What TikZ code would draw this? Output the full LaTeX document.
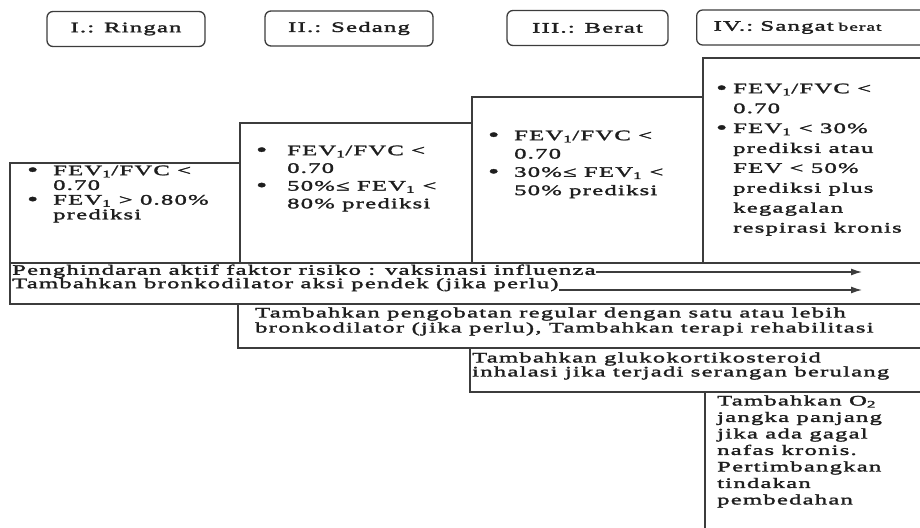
\documentclass[tikz,border=0pt]{standalone}
\usepackage{fontspec}
\setmainfont{Liberation Serif}[FakeStretch=1.7,LetterSpace=8.5,FakeBold=2]
\usetikzlibrary{arrows.meta}
\definecolor{garis}{RGB}{60,60,60}
\definecolor{tinta}{RGB}{30,30,30}
\newcommand{\fev}{FEV\textsubscript{1}}
\newcommand{\butir}{\raisebox{-0.6pt}{\fontsize{18.5}{18}\selectfont\textbullet}}

\begin{document}
\begin{tikzpicture}[x=1pt,y=-1pt,
  kotak/.style={draw=garis,line width=1.6pt},
  judul/.style={draw=garis,line width=1.3pt,rounded corners=6pt,minimum height=35pt,inner sep=0pt,text=tinta},
  isi/.style={anchor=north west,inner sep=0pt,text=tinta,align=left},
  panah/.style={-{Latex[length=11pt,width=7pt]},draw=garis,line width=1.3pt},
  font=\fontsize{14.5}{17}\selectfont]
  \useasboundingbox (0,0) rectangle (920,527);
  \clip (0,0) rectangle (920,527);

  % judul derajat
  \node[judul,minimum width=158pt] (jI) at (126,29) {I.: Ringan};
  \node[judul,minimum width=168pt] (jII) at (349,28.5) {II.: Sedang};
  \node[judul,minimum width=161pt] (jIII) at (587.5,28) {III.: Berat};
  \node[judul,anchor=west,text width=205pt,inner xsep=17pt,align=left] (jIV) at (696,27.5)
    {IV.: Sangat {\fontsize{11.5}{13}\selectfont berat}};

  % kotak bertingkat
  \draw[kotak] (10,163) rectangle (240,263);
  \draw[kotak] (240,123) rectangle (472,263);
  \draw[kotak] (472,97) rectangle (703,263);
  \draw[kotak] (703,58) rectangle (935,263);
  \draw[kotak] (10,263) rectangle (935,304);
  \draw[kotak] (238,304) rectangle (935,348);
  \draw[kotak] (470,348) rectangle (935,392);
  \draw[kotak] (705,392) rectangle (935,540);

  % kriteria spirometri
  \node[isi,font=\fontsize{14.5}{14.7}\selectfont] (kI) at (27,164.7)
    {\begin{tabular}{@{}p{26pt}@{}l@{}}
     \butir & \fev/FVC <\\ & 0.70\\ \butir & \fev{} > 0.80\%\\ & prediksi
     \end{tabular}};
  \node[isi,font=\fontsize{14.5}{17.7}\selectfont] (kII) at (256,142.6)
    {\begin{tabular}{@{}p{31pt}@{}l@{}}
     \butir & \fev/FVC <\\ & 0.70\\ \butir & 50\%≤ \fev{} <\\ & 80\% prediksi
     \end{tabular}};
  \node[isi,font=\fontsize{14.5}{18.3}\selectfont] (kIII) at (488,127.2)
    {\begin{tabular}{@{}p{26pt}@{}l@{}}
     \butir & \fev/FVC <\\ & 0.70\\ \butir & 30\%≤ \fev{} <\\ & 50\% prediksi
     \end{tabular}};
  \node[isi,font=\fontsize{14.5}{19.9}\selectfont] (kIV) at (716,79.1)
    {\begin{tabular}{@{}p{17pt}@{}l@{}}
     \butir & \fev/FVC <\\ & 0.70\\ \butir & \fev{} < 30\%\\ & prediksi atau\\
     & FEV < 50\%\\ & prediksi plus\\ & kegagalan\\ & respirasi kronis
     \end{tabular}};

  % penanganan
  \node[isi] (t1) at (12,264.4) {Penghindaran aktif faktor risiko : vaksinasi influenza};
  \node[isi] (t2) at (12,277.9) {Tambahkan bronkodilator aksi pendek (jika perlu)};
  \coordinate (u1) at (862,272);
  \coordinate (u2) at (862,290);
  \draw[panah] (t1.east |- u1) -- (u1);
  \draw[panah] (t2.east |- u2) -- (u2);

  \node[isi,font=\fontsize{14.5}{15}\selectfont] (p1) at (255,307.2)
    {Tambahkan pengobatan regular dengan satu atau lebih\\
     bronkodilator (jika perlu), Tambahkan terapi rehabilitasi};
  \node[isi,font=\fontsize{14.5}{14}\selectfont] (p2) at (472,352.2)
    {Tambahkan glukokortikosteroid\\inhalasi jika terjadi serangan berulang};
  \node[isi,font=\fontsize{14.5}{16.5}\selectfont] (p3) at (717,395.2)
    {Tambahkan O\textsubscript{2}\\jangka panjang\\jika ada gagal\\nafas kronis.\\
     Pertimbangkan\\tindakan\\pembedahan};
\end{tikzpicture}
\end{document}
